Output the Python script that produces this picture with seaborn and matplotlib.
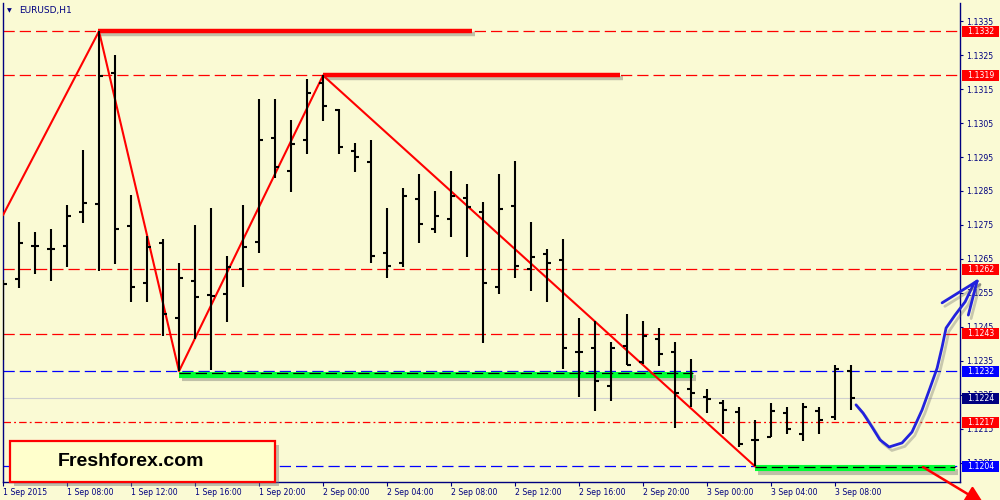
import numpy as np
import pandas as pd
import matplotlib
matplotlib.use('Agg')
import matplotlib.pyplot as plt
import matplotlib.patheffects as pe
import matplotlib.transforms as mtransforms
from matplotlib.patches import Rectangle
import seaborn as sns

# EURUSD H1 bars, 1 Sep 04:00 -> 3 Sep 09:00
opens = [1.12574, 1.12591, 1.12688, 1.12679, 1.12688, 1.12788, 1.12812, 1.13197, 1.12747, 1.12579,
         1.12697, 1.12477, 1.12585, 1.12544, 1.12547, 1.12621, 1.12700, 1.13006, 1.12909, 1.13000,
         1.13168, 1.13088, 1.12968, 1.12935, 1.12668, 1.12638, 1.12826, 1.12738, 1.12768, 1.12829,
         1.12788, 1.12568, 1.12806, 1.12621, 1.12665, 1.12647, 1.12377, 1.12388, 1.12277, 1.12394,
         1.12347, 1.12415, 1.12377, 1.12268, 1.12244, 1.12226, 1.12200, 1.12118, 1.12126, 1.12197,
         1.12135, 1.12203, 1.12185, 1.12320]
highs = [1.12588, 1.12759, 1.12729, 1.12738, 1.12809, 1.12971, 1.13320, 1.13250, 1.12838, 1.12718,
         1.12709, 1.12638, 1.12750, 1.12800, 1.12659, 1.12809, 1.13121, 1.13121, 1.13059, 1.13179,
         1.13190, 1.13091, 1.12991, 1.13000, 1.12800, 1.12859, 1.12900, 1.12850, 1.12909, 1.12871,
         1.12818, 1.12900, 1.12938, 1.12759, 1.12679, 1.12709, 1.12477, 1.12468, 1.12406, 1.12488,
         1.12468, 1.12447, 1.12406, 1.12356, 1.12268, 1.12235, 1.12215, 1.12176, 1.12226, 1.12215,
         1.12226, 1.12215, 1.12338, 1.12338]
lows = [1.12353, 1.12565, 1.12606, 1.12585, 1.12626, 1.12756, 1.12615, 1.12635, 1.12524, 1.12524,
        1.12424, 1.12320, 1.12415, 1.12324, 1.12465, 1.12568, 1.12668, 1.12888, 1.12847, 1.12959,
        1.13056, 1.12959, 1.12906, 1.12638, 1.12594, 1.12626, 1.12697, 1.12726, 1.12715, 1.12656,
        1.12403, 1.12547, 1.12594, 1.12556, 1.12524, 1.12326, 1.12244, 1.12203, 1.12232, 1.12338,
        1.12341, 1.12335, 1.12153, 1.12215, 1.12197, 1.12135, 1.12097, 1.12040, 1.12126, 1.12135,
        1.12115, 1.12135, 1.12176, 1.12206]
closes = [1.12577, 1.12697, 1.12688, 1.12679, 1.12776, 1.12815, 1.13188, 1.12738, 1.12568, 1.12685,
          1.12488, 1.12594, 1.12538, 1.12541, 1.12626, 1.12685, 1.13000, 1.12921, 1.12988, 1.13138,
          1.13100, 1.12979, 1.12950, 1.12659, 1.12629, 1.12835, 1.12753, 1.12776, 1.12835, 1.12803,
          1.12579, 1.12797, 1.12629, 1.12656, 1.12638, 1.12388, 1.12377, 1.12291, 1.12388, 1.12338,
          1.12424, 1.12371, 1.12256, 1.12256, 1.12238, 1.12206, 1.12106, 1.12118, 1.12203, 1.12150,
          1.12215, 1.12176, 1.12326, 1.12240]

time_ticks = [0, 4, 8, 12, 16, 20, 24, 28, 32, 36, 40, 44, 48, 52]
time_labels = ['1 Sep 2015', '1 Sep 08:00', '1 Sep 12:00', '1 Sep 16:00', '1 Sep 20:00',
               '2 Sep 00:00', '2 Sep 04:00', '2 Sep 08:00', '2 Sep 12:00', '2 Sep 16:00',
               '2 Sep 20:00', '3 Sep 00:00', '3 Sep 04:00', '3 Sep 08:00']
price_ticks = [1.1205, 1.1215, 1.1225, 1.1235, 1.1245, 1.1255, 1.1265,
               1.1275, 1.1285, 1.1295, 1.1305, 1.1315, 1.1325, 1.1335]

# horizontal levels with their price boxes on the right
level_prices = [1.1332, 1.1319, 1.1262, 1.1243, 1.1232, 1.1224, 1.1217, 1.1204]
level_kinds = ['res', 'res', 'res', 'res', 'sup', 'bid', 'dashdot', 'sup']

# zigzag
zigzag_x = [0, 6, 11, 20, 47]
zigzag_y = [1.12779, 1.1332, 1.1232, 1.1319, 1.1204]

# thick marker segments
seg_price = [1.13322, 1.13192, 1.12310, 1.12035]
seg_start = [5.94, 20.0, 11.0, 47.0]
seg_end = [29.31, 38.56, 43.13, 59.5]
seg_color = ['#FF0000', '#FF0000', '#00FF33', '#00FF33']

# hand drawn forecast path
path_x = [53.31, 53.75, 54.31, 54.81, 55.38, 56.19, 56.81, 57.44, 57.94, 58.38, 58.69, 58.94,
          59.5, 60.13, 60.69, 60.88]
path_y = [1.12221, 1.12197, 1.12156, 1.12118, 1.12097, 1.12109, 1.12141, 1.12206, 1.12271,
          1.12329, 1.12391, 1.12447, 1.12485, 1.12524, 1.12579, 1.12585]
barb_x = [58.69, 60.33]
barb_y = [1.12521, 1.12485]

BG = '#FAFAD4'
NAVY = '#000080'

sns.set_theme(style='white', rc={'axes.facecolor': BG, 'figure.facecolor': BG})
plt.rcParams['font.family'] = ['DejaVu Sans']

df = pd.DataFrame({'bar': np.arange(len(opens)), 'open': opens, 'high': highs,
                   'low': lows, 'close': closes})

fig = plt.figure(figsize=(10, 5), dpi=100)
ax = fig.add_axes([0.003, 0.036, 0.957, 0.958])
ax.set_facecolor(BG)

# level lines
for p, kind in zip(level_prices, level_kinds):
    if kind == 'res':
        ax.axhline(p, color='#FF0000', lw=0.9, ls=(0, (9, 4)), zorder=1)
    elif kind == 'sup':
        ax.axhline(p, color='#0000FF', lw=0.9, ls=(0, (9, 4)), zorder=1)
    elif kind == 'bid':
        ax.axhline(p, color='#CFCFCF', lw=0.8, zorder=1)
    else:
        ax.axhline(p, color='#FF0000', lw=0.9, ls=(0, (6, 2.5, 1.5, 2.5)), zorder=1)

# thick segments with shadow
for p, s, e, c in zip(seg_price, seg_start, seg_end, seg_color):
    lw = 3.2 if c == '#FF0000' else 4.4
    ax.plot([s, e], [p, p], color=c, lw=lw, solid_capstyle='butt', zorder=2,
            path_effects=[pe.SimpleLineShadow(offset=(2, -2.5), shadow_color='#555555', alpha=0.35),
                          pe.Normal()])
    if c != '#FF0000':
        ax.plot([s, e], [p + 0.00004, p + 0.00004], color='black', lw=0.9, ls=(0, (9, 4)), zorder=2.1)

# zigzag
sns.lineplot(x=zigzag_x, y=zigzag_y, sort=False, color='#FF0000', lw=1.5, ax=ax, zorder=3)

# OHLC bars
ax.vlines(df['bar'], df['low'], df['high'], color='black', lw=1.5, zorder=4)
ax.hlines(df['open'], df['bar'] - 0.27, df['bar'], color='black', lw=1.5, zorder=4)
ax.hlines(df['close'], df['bar'], df['bar'] + 0.27, color='black', lw=1.5, zorder=4)

# forecast path
shadow = [pe.SimpleLineShadow(offset=(2, -2.5), shadow_color='#555555', alpha=0.3), pe.Normal()]
sns.lineplot(x=path_x, y=path_y, sort=False, color='#2222DD', lw=2.0, ax=ax, zorder=5)
ax.lines[-1].set_path_effects(shadow)
ax.lines[-1].set_clip_on(False)
for bx, by in zip(barb_x, barb_y):
    ax.plot([bx, path_x[-1]], [by, path_y[-1]], color='#2222DD', lw=2.0, zorder=5,
            clip_on=False, path_effects=shadow)

# red down arrow at bottom right
ax.annotate('', xy=(61.3, 1.11930), xytext=(57.5, 1.12038), annotation_clip=False,
            arrowprops=dict(arrowstyle='-|>,head_length=0.9,head_width=0.45', color='#FF0000',
                            lw=1.8, shrinkA=0, shrinkB=0), zorder=6)

ax.set_xlim(0, 59.81)
ax.set_ylim(1.11994, 1.13403)

# axes styling
for side in ['left', 'right', 'bottom']:
    ax.spines[side].set_color(NAVY)
    ax.spines[side].set_linewidth(1.0)
ax.spines['top'].set_visible(False)
ax.yaxis.tick_right()
ax.set_yticks(price_ticks)
ax.set_yticklabels([f'{p:.4f}' for p in price_ticks])
ax.set_xticks(time_ticks)
ax.set_xticklabels(time_labels)
for lab in ax.get_xticklabels():
    lab.set_ha('left')
ax.tick_params(axis='y', right=True, left=False, length=2.3, width=0.8, color=NAVY,
               labelcolor=NAVY, labelsize=5.6, pad=2.2)
ax.tick_params(axis='x', bottom=True, length=3, width=0.8, color=NAVY,
               labelcolor=NAVY, labelsize=5.6, pad=1.5)
ax.set_xlabel('')
ax.set_ylabel('')
ax.grid(False)

# price boxes
trans = mtransforms.blended_transform_factory(ax.transAxes, ax.transData)
box_colors = {'res': '#FF0000', 'sup': '#0000FF', 'bid': NAVY, 'dashdot': '#FF0000'}
for p, kind in zip(level_prices, level_kinds):
    ax.add_patch(Rectangle((1.0021, p - 0.000165), 0.0387, 0.00033, transform=trans,
                           facecolor=box_colors[kind], edgecolor='none', clip_on=False, zorder=7))
    ax.text(1.0214, p, f'{p:.4f}', transform=trans, ha='center', va='center',
            color='white', fontsize=5.6, clip_on=False, zorder=8)

# header
fig.text(0.007, 0.978, '\u25BC', fontsize=4.5, color=NAVY, va='center', ha='left')
fig.text(0.019, 0.978, 'EURUSD,H1', fontsize=6.5, color=NAVY, va='center', ha='left')

# watermark box
box = Rectangle((0.010, 0.036), 0.265, 0.082, transform=fig.transFigure, facecolor='#FFFFCC',
                edgecolor='#FF0000', lw=1.6, zorder=10,
                path_effects=[pe.SimplePatchShadow(offset=(3, -3), shadow_rgbFace='#777777', alpha=0.45),
                              pe.Normal()])
fig.add_artist(box)
fig.text(0.131, 0.078, 'Freshforex.com', fontsize=14, fontweight='bold', color='black',
         family='Liberation Sans', ha='center', va='center', zorder=11)

fig.savefig('out.png', dpi=100, facecolor=BG)
